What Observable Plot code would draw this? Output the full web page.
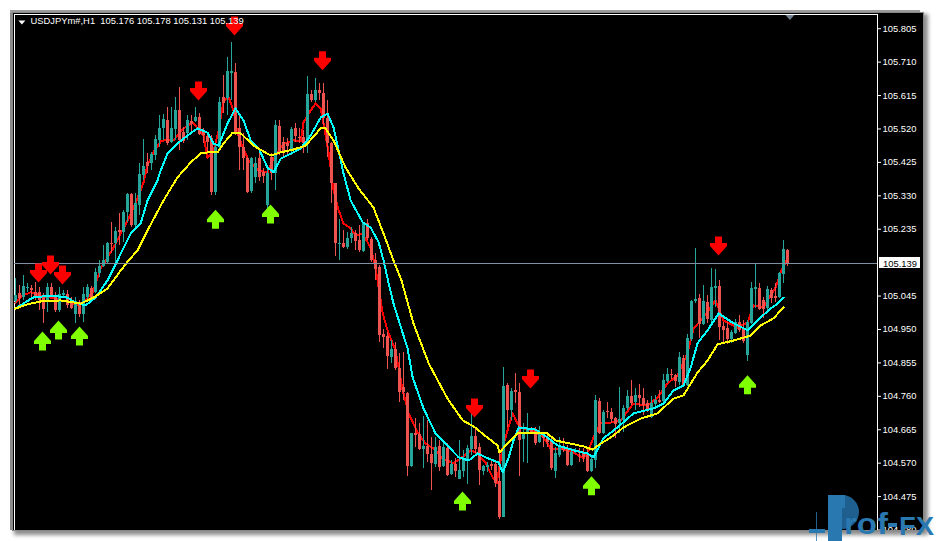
<!DOCTYPE html>
<html><head><meta charset="utf-8">
<script src="https://cdn.jsdelivr.net/npm/d3@7"></script>
<script src="https://cdn.jsdelivr.net/npm/@observablehq/plot@0.6"></script>
<style>
html,body{margin:0;padding:0;background:#fff;width:936px;height:541px;overflow:hidden}
#win{position:absolute;left:13px;top:13px;width:910px;height:517px;background:#000;overflow:hidden;
 box-shadow:0 0 0 1px #888,-3px 0 0 0 #8a8a8a,-3px -3px 0 0 #9a9a9a,3px 3px 4px 2px #8c8c8c}
#win svg{display:block;background:#000;max-width:none}
#mark{position:absolute;left:0;top:0;pointer-events:none}
</style></head><body>
<div id="win"></div>
<svg id="mark" width="936" height="541" font-family="Liberation Sans" font-weight="bold" fill="#2a78b0">
<rect x="816" y="512" width="1" height="29" opacity=".8"/>
<rect x="809" y="529" width="16" height="4"/>
<rect x="828" y="495" width="14" height="46"/>
<path d="M842 495 A17 17 0 0 1 842 529 Z" fill="#1f5f90"/>
<rect x="842" y="495" width="3" height="13" fill="#2a78b0"/>
<text x="844" y="534" font-size="29" textLength="44" lengthAdjust="spacingAndGlyphs">rof</text>
<rect x="888" y="523" width="9" height="4"/>
<text x="899" y="535" font-size="25" textLength="35" lengthAdjust="spacingAndGlyphs">FX</text>
</svg>
<script>
const open=[105.031,105.054,105.042,105.068,105.068,105.057,105.057,105.042,105.028,105.071,
105.048,105.005,105.048,105.051,105.034,104.994,105.028,104.994,105.042,105.068,
105.057,105.111,105.130,105.142,105.196,105.196,105.233,105.227,105.284,105.335,
105.247,105.304,105.389,105.426,105.423,105.446,105.489,105.523,105.546,105.483,
105.520,105.574,105.511,105.509,105.543,105.543,105.554,105.514,105.500,105.494,
105.341,105.469,105.611,105.608,105.679,105.682,105.523,105.469,105.437,105.344,
105.384,105.437,105.398,105.304,105.440,105.395,105.528,105.483,105.480,105.457,
105.523,105.497,105.497,105.480,105.619,105.602,105.631,105.622,105.551,105.480,
105.366,105.193,105.196,105.184,105.210,105.224,105.204,105.173,105.253,105.207,
105.148,105.128,104.937,104.931,104.872,104.895,104.841,104.786,104.769,104.562,
104.656,104.653,104.610,104.619,104.596,104.568,104.619,104.562,104.613,104.539,
104.568,104.525,104.548,104.579,104.610,104.647,104.616,104.548,104.559,104.568,
104.568,104.519,104.417,104.792,104.721,104.778,104.772,104.639,104.659,104.664,
104.667,104.630,104.656,104.644,104.633,104.548,104.593,104.619,104.610,104.565,
104.602,104.602,104.599,104.593,104.548,104.579,104.747,104.656,104.718,104.716,
104.699,104.684,104.693,104.727,104.761,104.744,104.764,104.755,104.741,104.701,
104.738,104.750,104.747,104.804,104.823,104.821,104.801,104.869,104.792,104.923,
105.031,105.040,104.966,105.028,104.977,105.068,105.074,104.960,104.954,104.923,
104.940,104.971,104.954,104.878,104.968,105.065,105.068,105.034,105.011,105.062,
105.045,105.042,105.108,105.176];
const high=[105.096,105.077,105.105,105.082,105.077,105.085,105.071,105.054,105.082,105.082,
105.057,105.071,105.062,105.062,105.042,105.042,105.034,105.071,105.079,105.074,
105.125,105.148,105.190,105.199,105.256,105.241,105.281,105.290,105.338,105.338,
105.338,105.423,105.492,105.452,105.455,105.503,105.560,105.563,105.583,105.583,
105.611,105.639,105.526,105.560,105.560,105.583,105.565,105.523,105.511,105.503,
105.480,105.611,105.673,105.725,105.767,105.707,105.560,105.509,105.440,105.440,
105.440,105.452,105.409,105.409,105.452,105.546,105.546,105.497,105.494,105.526,
105.537,105.523,105.517,105.671,105.631,105.665,105.651,105.651,105.602,105.483,
105.366,105.264,105.233,105.227,105.241,105.233,105.247,105.256,105.264,105.213,
105.167,105.133,104.951,104.943,104.920,104.914,104.883,104.886,104.772,104.656,
104.699,104.684,104.704,104.693,104.644,104.644,104.636,104.627,104.627,104.579,
104.585,104.636,104.608,104.622,104.713,104.670,104.627,104.565,104.573,104.579,
104.579,104.602,104.843,104.798,104.784,104.826,104.798,104.684,104.713,104.673,
104.673,104.676,104.659,104.656,104.642,104.616,104.644,104.642,104.622,104.613,
104.613,104.613,104.613,104.616,104.593,104.764,104.755,104.721,104.744,104.727,
104.701,104.787,104.735,104.778,104.806,104.784,104.795,104.784,104.750,104.761,
104.764,104.778,104.823,104.840,104.838,104.823,104.886,104.878,104.937,105.034,
105.182,105.051,105.077,105.048,105.125,105.122,105.091,104.971,104.971,104.949,
104.980,104.991,104.977,104.977,105.085,105.139,105.082,105.042,105.074,105.068,
105.082,105.113,105.204,105.178];
const low=[105.025,105.020,105.034,105.057,105.042,105.034,105.005,104.968,105.000,105.042,
105.000,105.000,105.042,105.011,105.008,104.968,104.986,104.971,105.028,105.031,
105.054,105.099,105.128,105.139,105.168,105.142,105.190,105.199,105.256,105.241,
105.241,105.276,105.375,105.395,105.403,105.432,105.469,105.489,105.474,105.480,
105.489,105.460,105.480,105.489,105.511,105.540,105.503,105.480,105.455,105.332,
105.332,105.460,105.565,105.560,105.602,105.503,105.403,105.403,105.338,105.338,
105.366,105.372,105.366,105.273,105.375,105.347,105.446,105.440,105.446,105.446,
105.483,105.480,105.452,105.452,105.597,105.597,105.602,105.531,105.440,105.310,
105.159,105.148,105.182,105.179,105.196,105.176,105.170,105.170,105.204,105.142,
105.091,104.914,104.898,104.838,104.855,104.835,104.744,104.750,104.534,104.559,
104.616,104.608,104.556,104.573,104.494,104.559,104.548,104.559,104.534,104.536,
104.531,104.525,104.531,104.511,104.593,104.599,104.508,104.536,104.545,104.551,
104.502,104.411,104.417,104.673,104.693,104.741,104.534,104.573,104.570,104.653,
104.622,104.627,104.616,104.616,104.551,104.528,104.588,104.602,104.562,104.562,
104.599,104.573,104.573,104.545,104.545,104.556,104.653,104.653,104.699,104.684,
104.642,104.656,104.659,104.721,104.735,104.721,104.730,104.707,104.716,104.699,
104.730,104.741,104.744,104.798,104.809,104.787,104.792,104.789,104.789,104.917,
105.025,104.926,104.963,104.968,104.960,105.014,104.920,104.912,104.909,104.912,
104.937,104.943,104.912,104.861,104.966,105.011,105.005,104.983,105.005,105.025,
105.028,105.040,105.082,105.131];
const close=[105.048,105.040,105.074,105.071,105.062,105.042,105.034,105.008,105.071,105.048,
105.005,105.051,105.054,105.020,105.011,105.031,104.994,105.051,105.071,105.034,
105.113,105.130,105.148,105.196,105.193,105.230,105.227,105.284,105.335,105.247,
105.310,105.392,105.415,105.415,105.449,105.492,105.523,105.548,105.480,105.523,
105.574,105.489,105.486,105.546,105.534,105.554,105.506,105.503,105.483,105.341,
105.469,105.597,105.594,105.685,105.685,105.509,105.469,105.437,105.341,105.437,
105.423,105.384,105.386,105.395,105.395,105.531,105.455,105.457,105.472,105.520,
105.500,105.494,105.480,105.619,105.602,105.631,105.622,105.551,105.480,105.366,
105.196,105.196,105.184,105.210,105.224,105.202,105.176,105.253,105.210,105.148,
105.122,104.934,104.929,104.875,104.895,104.841,104.772,104.772,104.562,104.656,
104.650,104.610,104.619,104.596,104.570,104.616,104.559,104.616,104.536,104.568,
104.548,104.551,104.579,104.613,104.647,104.610,104.551,104.562,104.565,104.562,
104.514,104.417,104.789,104.721,104.775,104.772,104.636,104.659,104.670,104.659,
104.627,104.656,104.642,104.630,104.556,104.599,104.619,104.608,104.565,104.602,
104.605,104.599,104.588,104.548,104.582,104.750,104.656,104.716,104.716,104.696,
104.681,104.696,104.727,104.761,104.741,104.764,104.755,104.735,104.724,104.741,
104.750,104.744,104.806,104.823,104.821,104.804,104.872,104.792,104.926,105.031,
105.037,104.966,105.031,104.980,105.071,105.074,104.957,104.949,104.923,104.943,
104.971,104.949,104.917,104.971,105.068,105.071,105.008,105.008,105.065,105.040,
105.040,105.111,105.179,105.139];

const fastBars=[0,1.8,3.8,6.3,8.8,11.3,13.8,15.8,17.5,19.3,21.3,24.5,28,30,32,33,34.5,36.3,38,39.5,42,44.3,47,48,49.5,50.8,52,53.3,54.5,55.5,56.8,58.3,60.8,63,64.3,67,69.5,71.3,72,73.8,75,76.3,77,78.3,79.5,80.8,82,83.8,85,86.8,88.8,90,91.8,93,95,96.8,98.3,100.5,102.5,104.5,106.8,109.5,111.3,113.8,115.5,117.5,119.3,120.3,121.8,123,124.3,125.5,126.8,129.5,132,133.8,136.3,139.5,142,143.3,144.3,146.3,148.8,151.3,154.5,158,160.5,163,165.5,168,169.5,172,175,177,180.5,183,184.5,187,190,191.5,193];
const fastMA=[105.028,105.048,105.057,105.048,105.042,105.034,105.028,105.020,105.034,105.057,105.125,105.184,105.261,105.310,105.369,105.418,105.455,105.486,105.492,105.489,105.523,105.540,105.503,105.440,105.460,105.517,105.602,105.611,105.574,105.509,105.469,105.432,105.403,105.398,105.432,105.480,105.489,105.486,105.540,105.574,105.594,105.580,105.537,105.452,105.347,105.290,105.253,105.239,105.219,105.224,105.184,105.128,104.997,104.949,104.892,104.778,104.713,104.659,104.627,104.613,104.585,104.571,104.585,104.608,104.599,104.573,104.531,104.514,104.616,104.664,104.713,104.684,104.670,104.664,104.644,104.613,104.613,104.602,104.585,104.608,104.639,104.687,104.687,104.693,104.741,104.735,104.758,104.798,104.821,104.883,104.954,104.986,105.034,104.977,104.957,104.971,105.020,105.014,105.071,105.119,105.153];

const midBars=[0,2,4.3,8.8,13,15,17.5,20,23,25.5,28.8,31.3,33,35.5,36.3,38,40.5,43,45.5,48,49.5,50.8,53,55,57,58.8,60.8,63,64.5,66.3,69.5,71.3,73.8,76.3,78,79.5,80.8,82,83.8,86.8,88.8,90.8,92,93.3,94.5,98,99.3,102,105,107.5,110.8,113.3,115.5,117.5,120.8,121.8,123.3,124.5,125.8,130,133,135.5,139.5,143,144.5,147,150.5,154.5,159.5,162,164.5,167,168.8,170.5,173,175.8,179.5,183,186.3,188.8,190.5,192];
const midMA=[105.011,105.025,105.042,105.048,105.042,105.028,105.020,105.042,105.091,105.148,105.224,105.253,105.318,105.375,105.403,105.452,105.480,105.503,105.523,105.511,105.480,105.474,105.537,105.580,105.546,105.489,105.466,105.412,105.398,105.437,105.455,105.466,105.503,105.554,105.565,105.526,105.460,105.395,105.318,105.256,105.241,105.199,105.148,105.082,105.025,104.898,104.815,104.727,104.656,104.627,104.588,104.579,104.599,104.588,104.573,104.545,104.588,104.636,104.673,104.667,104.644,104.622,104.608,104.599,104.588,104.642,104.673,104.713,104.727,104.741,104.778,104.792,104.843,104.912,104.949,104.997,104.969,104.949,104.986,105.011,105.025,105.042];

const slowBars=[0,3,6.3,11.3,16.3,19.5,23,26.3,28.3,30.5,33,37,40.5,43.8,46.3,48.3,50.5,52,54.3,56.3,59.5,63.8,66.3,69.5,72.5,76.3,77.5,79.5,82.5,85.8,89.5,92,94.5,96.5,99.5,103.3,108,111.8,114.5,118,120.5,121,123,125.5,133,135,138.8,142,144.3,146.3,148.8,152,156.3,160.5,164.5,167,170.5,173,175.5,179.5,183.8,186.3,189.5,192];
const slowMA=[105.011,105.023,105.031,105.034,105.025,105.042,105.068,105.119,105.148,105.176,105.233,105.318,105.384,105.426,105.452,105.455,105.455,105.480,105.511,105.509,105.474,105.446,105.455,105.463,105.474,105.523,105.523,105.489,105.412,105.352,105.298,105.224,105.148,105.091,104.968,104.855,104.755,104.693,104.676,104.644,104.622,104.602,104.627,104.656,104.656,104.636,104.627,104.619,104.610,104.627,104.644,104.673,104.698,104.713,104.755,104.764,104.829,104.863,104.909,104.920,104.934,104.963,104.983,105.014];

const sellBars=[5.75,8.75,11.75,45.75,54.75,76.75,114.75,128.75,175.75];
const sellPrices=[105.112,105.135,105.106,105.629,105.814,105.715,104.728,104.811,105.189];
const buyBars=[6.75,10.75,16,50,63.75,111.75,144,183];
const buyPrices=[104.919,104.950,104.933,105.265,105.280,104.464,104.507,104.794];

const tickPrices=[105.805,105.710,105.615,105.520,105.425,105.330,105.235,105.045,104.950,104.855,104.760,104.665,104.570,104.475,104.380];
const lastPrice=105.139;
const titleText="USDJPYm#,H1\u00a0\u00a0105.176 105.178 105.131 105.139";
const barDomain=[-0.25,215.5];
const priceDomain=[104.38,105.8468];

const UP="#26a69a",DOWN="#ef5350";
const candles=open.map((o,i)=>({i,o,h:high[i],l:low[i],c:close[i],up:close[i]>=o}));
const pts=(b,v)=>b.map((x,k)=>({x,y:v[k]}));
const arrowDown={draw(c){c.moveTo(-3.5,-9.5);c.lineTo(3.5,-9.5);c.lineTo(3.5,-3);c.lineTo(8.5,-3);c.lineTo(8.5,0);c.lineTo(0,9.5);c.lineTo(-8.5,0);c.lineTo(-8.5,-3);c.lineTo(-3.5,-3);c.closePath();}};
const arrowUp={draw(c){c.moveTo(-3.5,9.5);c.lineTo(3.5,9.5);c.lineTo(3.5,3);c.lineTo(8.5,3);c.lineTo(8.5,0);c.lineTo(0,-9.5);c.lineTo(-8.5,0);c.lineTo(-8.5,3);c.lineTo(-3.5,3);c.closePath();}};
const tri={draw(c){c.moveTo(-4.5,-2.5);c.lineTo(4.5,-2.5);c.lineTo(0,2.5);c.closePath();}};
const wide={draw(c){c.moveTo(-3.5,-2);c.lineTo(3.5,-2);c.lineTo(0,2);c.closePath();}};
const crisp={shapeRendering:"crispEdges"};
const wick=(up,col)=>Plot.ruleX(candles,{filter:d=>d.up===up,x:"i",y1:"l",y2:"h",stroke:col,strokeWidth:1,...crisp});
const body=(up,col)=>Plot.ruleX(candles,{filter:d=>d.up===up,x:"i",y1:"o",y2:"c",stroke:col,strokeWidth:3,...crisp});
const ma=(b,v,col)=>Plot.line(pts(b,v),{x:"x",y:"y",stroke:col,strokeWidth:2,curve:"linear",...crisp});

const chart=Plot.plot({
  width:910,height:517,marginLeft:1,marginRight:46,marginTop:1,marginBottom:0,
  style:{background:"#000",fontFamily:"Liberation Sans"},
  x:{domain:barDomain,axis:null},
  y:{domain:priceDomain,axis:null},
  marks:[
    Plot.ruleX([barDomain[0],barDomain[1]],{stroke:"#fff",...crisp}),
    Plot.ruleY([priceDomain[1]],{stroke:"#fff",...crisp}),
    ma(fastBars,fastMA,"#ff0000"),
    wick(true,UP),wick(false,DOWN),body(true,UP),body(false,DOWN),
    ma(midBars,midMA,"#00ffff"),
    ma(slowBars,slowMA,"#ffff00"),
    Plot.ruleY([lastPrice],{stroke:"#8090a0",...crisp}),
    Plot.dot(pts(sellBars,sellPrices),{x:"x",y:"y",symbol:arrowDown,fill:"#ff0000",stroke:null}),
    Plot.dot(pts(buyBars,buyPrices),{x:"x",y:"y",symbol:arrowUp,fill:"#7fff00",stroke:null}),
    Plot.dot([{x:193.6,y:105.838}],{x:"x",y:"y",symbol:tri,fill:"#708090",stroke:null}),
    Plot.dot([{x:1.6,y:105.824}],{x:"x",y:"y",symbol:wide,fill:"#fff",stroke:null}),
    Plot.text([titleText],{frameAnchor:"top-left",dx:16,dy:3,textAnchor:"start",lineAnchor:"top",fill:"#fff",fontSize:9.4}),
    Plot.axisY(tickPrices,{anchor:"right",tickSize:3,tickPadding:2,dy:-0.5,stroke:"#fff",color:"#fff",fill:"#fff",fontSize:9.4,label:null,tickFormat:d=>d.toFixed(3)}),
    Plot.rect([0],{x1:()=>216,x2:()=>226.25,y1:()=>105.156,y2:()=>105.125,fill:"#fff",...crisp}),
    Plot.text([lastPrice],{x:()=>216,y:d=>d,text:d=>d.toFixed(3),dx:3.5,textAnchor:"start",fill:"#000",fontSize:9.4})
  ]
});
document.getElementById("win").appendChild(chart);
</script>
</body></html>
